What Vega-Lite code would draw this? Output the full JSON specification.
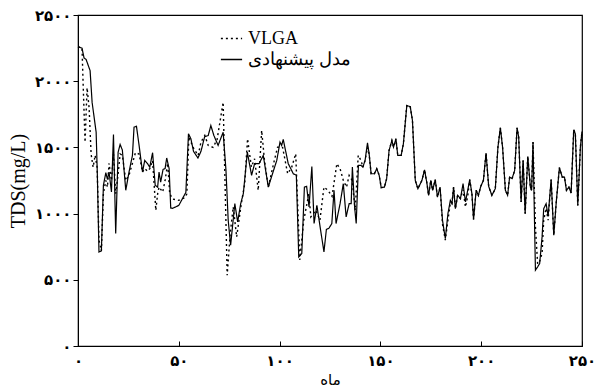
{
  "$schema": "https://vega.github.io/schema/vega-lite/v6.json",
  "autosize": "none",
  "width": 504,
  "height": 331,
  "padding": {"left": 78, "top": 15, "right": 18, "bottom": 43},
  "background": "white",
  "config": {"view": {"stroke": "black", "strokeWidth": 1.2}},
  "datasets": {
    "model": [
      [0,2260],[2,2250],[3,2175],[4,2165],[6,2080],[7,1840],[9,1615],[9.6,1290],[10.4,710],[11.6,718],[12.6,1213],[13.8,1309],[14.6,1258],[15.4,1314],[16.6,1163],[17.6,1598],[18.7,849],[19.9,1464],[20.9,1522],[22,1480],[23.7,1176],[25.3,1314],[27,1439],[27.8,1653],[29,1660],[30.3,1515],[32,1314],[33.1,1402],[34.5,1377],[35.6,1351],[37,1460],[38.3,1213],[39.5,1200],[40.2,1314],[41,1238],[42.2,1334],[43.2,1340],[44,1420],[45.2,1340],[46,1042],[47,1040],[50,1062],[53.5,1160],[54.8,1603],[56,1565],[57.3,1470],[59.5,1420],[61,1470],[62.8,1580],[64.6,1590],[65.9,1665],[67.4,1590],[69.5,1515],[72,1615],[73.4,1326],[74.5,950],[75.7,761],[77.8,1075],[79.2,937],[80.7,1075],[82,1150],[84,1464],[86.1,1289],[87.6,1377],[89.8,1377],[91.9,1439],[94.4,1200],[97,1326],[98.6,1402],[100.2,1540],[101,1515],[101.8,1560],[104.3,1377],[106.8,1301],[108.3,1290],[109.5,673],[111,698],[112.3,1200],[113.4,1206],[114.6,1050],[116,1356],[117.1,925],[118.5,1062],[120.1,899],[122,711],[123.2,880],[124.5,890],[125.9,925],[127,1176],[128,925],[130,1075],[131.6,1226],[133,975],[134.5,1075],[135.5,1075],[136.1,1351],[137.2,1050],[138,925],[139.1,1364],[140.4,1364],[141.3,1351],[142.4,1402],[143.6,1535],[144.4,1452],[145.4,1301],[147,1301],[148.2,1339],[149.4,1289],[150.4,1196],[152,1200],[153.1,1264],[154.3,1477],[155.7,1552],[156.5,1502],[157.7,1565],[158.6,1440],[160.3,1440],[161.4,1527],[163.1,1816],[164.8,1808],[165.9,1703],[167.3,1251],[168.6,1188],[169.8,1226],[170.6,1251],[171.9,1331],[173.1,1226],[173.9,1138],[175,1251],[175.9,1176],[177.2,1256],[178.3,1125],[179.6,1200],[180.8,950],[182.2,811],[183.5,1000],[184.7,1100],[185.5,1075],[186.3,1200],[187.2,1037],[188.3,1138],[189.7,1113],[191,1226],[192.2,1088],[193.3,1176],[194.3,1256],[195.4,1150],[196.2,955],[197.5,1176],[198.6,1138],[199.8,1206],[201.1,1251],[202.4,1457],[203.7,1206],[205.3,1138],[207,1188],[208.3,1502],[209.5,1648],[210.6,1502],[212,1176],[213.1,1138],[214.1,1276],[215.3,1264],[216.6,1326],[217.8,1648],[218.6,1577],[219.8,1088],[220.8,1402],[221.8,1000],[223.1,1432],[224.4,1200],[225,1176],[225.7,1540],[226.9,573],[228,598],[229,623],[230.2,824],[231,1037],[232.2,1075],[233.2,980],[234.7,1258],[236,836],[237.3,1100],[238.8,1347],[240.2,1276],[241.3,1276],[242.3,1176],[243.5,1200],[244.6,1156],[245.9,1633],[246.7,1603],[247.9,1062],[249.2,1502],[250,1620]
    ],
    "vlga": [
      [0,2260],[2,2250],[2.5,2000],[3.5,1540],[4.5,1950],[5.5,1800],[6.5,1450],[7.5,1350],[8.5,1440],[9.5,1350],[10.4,800],[11.6,720],[12.6,1150],[13.8,1250],[14.6,1200],[15.4,1380],[16.6,1250],[17.6,1450],[18.7,1150],[19.9,1300],[20.9,1450],[22,1440],[23.7,1250],[25.3,1290],[27,1380],[28.5,1460],[30.3,1450],[32,1314],[33.1,1340],[34.5,1320],[35.6,1340],[37,1400],[38.6,1025],[39.5,1150],[40.2,1200],[42,1163],[43.2,1250],[44.5,1380],[45.5,1150],[47,1110],[50,1100],[53,1120],[54,1150],[55,1580],[57.1,1500],[59.6,1440],[61,1540],[62.9,1590],[64.6,1515],[67,1500],[69,1560],[72,1841],[74,535],[75.5,850],[77,1050],[78.7,824],[81,1075],[82.7,1226],[84.1,1565],[86,1352],[87.6,1414],[89.4,1176],[91.1,1628],[92.5,1402],[94.4,1200],[97,1377],[99,1502],[101.5,1500],[104,1301],[106,1350],[108,1452],[110,650],[112,950],[114.5,1150],[115.5,975],[118,1025],[120,950],[122,1200],[124,1176],[126,1130],[128.4,1377],[130,1339],[131.6,1251],[133.2,1200],[134.5,1289],[136,1251],[137.5,1025],[139,1440],[140.4,1402],[141.3,1351],[142.4,1402],[143.6,1500],[144.4,1452],[145.4,1301],[147,1301],[148.2,1339],[149.4,1289],[150.4,1196],[152,1200],[153.1,1264],[154.3,1477],[155.7,1552],[156.5,1502],[157.7,1565],[158.6,1440],[160.3,1440],[161.4,1527],[163.1,1816],[164.8,1808],[165.9,1703],[167.3,1251],[168.6,1188],[169.8,1226],[170.6,1251],[171.9,1331],[173.1,1226],[173.9,1138],[175,1251],[175.9,1176],[177.2,1256],[178.3,1125],[179.6,1200],[180.8,920],[182.2,800],[183.5,950],[184.7,1080],[185.5,1075],[186.3,1200],[187.2,1037],[188.3,1138],[189.7,1113],[191,1180],[192.2,1050],[193.3,1130],[194.3,1256],[195.4,1150],[196.2,955],[197.5,1176],[198.6,1138],[199.8,1206],[201.1,1251],[202.4,1457],[203.7,1206],[205.3,1138],[207,1188],[208.3,1502],[209.5,1648],[210.6,1502],[212,1176],[213.1,1138],[214.1,1276],[215.3,1264],[216.6,1326],[217.8,1648],[218.6,1577],[219.8,1088],[220.8,1402],[221.8,1000],[223.1,1432],[224.4,1200],[225,1176],[225.7,1540],[226.9,900],[228,620],[229,640],[230.2,700],[231,950],[232.2,1040],[233.2,950],[234.7,1258],[236,836],[237.3,1100],[238.8,1347],[240.2,1276],[241.3,1276],[242.3,1176],[243.5,1200],[244.6,1156],[245.9,1633],[246.7,1603],[247.9,1062],[249.2,1502],[250,1620]
    ]
  },
  "data": {"name": "model"},
  "transform": [
    {"calculate": "'مدل پیشنهادی'", "as": "s"},
    {"calculate": "datum[0]", "as": "m"},
    {"calculate": "datum[1]", "as": "v"}
  ],
  "layer": [
    {
      "data": {"name": "vlga"},
      "transform": [
        {"calculate": "'VLGA'", "as": "s"},
        {"calculate": "datum[0]", "as": "m"},
        {"calculate": "datum[1]", "as": "v"}
      ],
      "mark": {"type": "line", "color": "black", "strokeWidth": 1.4},
      "encoding": {
        "x": {"field": "m", "type": "quantitative"},
        "y": {"field": "v", "type": "quantitative"},
        "strokeDash": {"field": "s", "type": "nominal"}
      }
    },
    {
      "mark": {"type": "line", "color": "black", "strokeWidth": 1.2},
      "encoding": {
        "x": {"field": "m", "type": "quantitative"},
        "y": {"field": "v", "type": "quantitative"},
        "strokeDash": {"field": "s", "type": "nominal"}
      }
    }
  ],
  "resolve": {"scale": {"strokeDash": "shared"}},
  "encoding": {
    "x": {
      "field": "m", "type": "quantitative",
      "scale": {"domain": [0, 250], "nice": false},
      "axis": {
        "title": "ماه", "values": [0, 50, 100, 150, 200, 250], "format": "d",
        "labelExpr": "replace(replace(replace(replace(datum.label,regexp('0','g'),'۰'),regexp('1','g'),'۱'),regexp('2','g'),'۲'),regexp('5','g'),'۵')",
        "grid": false, "domainColor": "black", "tickColor": "black", "tickSize": -5,
        "labelFont": "DejaVu Sans", "labelFontSize": 15, "labelFontWeight": "bold", "labelColor": "black", "labelPadding": 12, "labelFlush": false, "labelOverlap": false,
        "titleFont": "DejaVu Sans", "titleFontSize": 15, "titleFontWeight": "normal", "titleColor": "black", "titlePadding": 4
      }
    },
    "y": {
      "field": "v", "type": "quantitative",
      "scale": {"domain": [0, 2500], "nice": false},
      "axis": {
        "title": "TDS(mg/L)", "values": [0, 500, 1000, 1500, 2000, 2500], "format": "d",
        "labelExpr": "replace(replace(replace(replace(datum.label,regexp('0','g'),'۰'),regexp('1','g'),'۱'),regexp('2','g'),'۲'),regexp('5','g'),'۵')",
        "grid": false, "domainColor": "black", "tickColor": "black", "tickSize": 5,
        "labelFont": "DejaVu Sans", "labelFontSize": 15, "labelFontWeight": "bold", "labelColor": "black", "labelPadding": 2, "labelFlush": false, "labelOverlap": false,
        "titleFont": "Liberation Serif", "titleFontSize": 20, "titleFontWeight": "normal", "titleColor": "black", "titlePadding": 6
      }
    },
    "strokeDash": {
      "field": "s", "type": "nominal",
      "scale": {"domain": ["VLGA", "مدل پیشنهادی"], "range": [[2, 3], [1, 0]]},
      "legend": {
        "title": null, "orient": "none", "legendX": 142, "legendY": 12,
        "symbolType": "stroke", "symbolSize": 450, "symbolStrokeColor": "black", "symbolStrokeWidth": 1.3,
        "labelFont": "Liberation Serif", "labelFontSize": 18, "labelColor": "black", "labelOffset": 5, "rowPadding": 0
      }
    }
  }
}
